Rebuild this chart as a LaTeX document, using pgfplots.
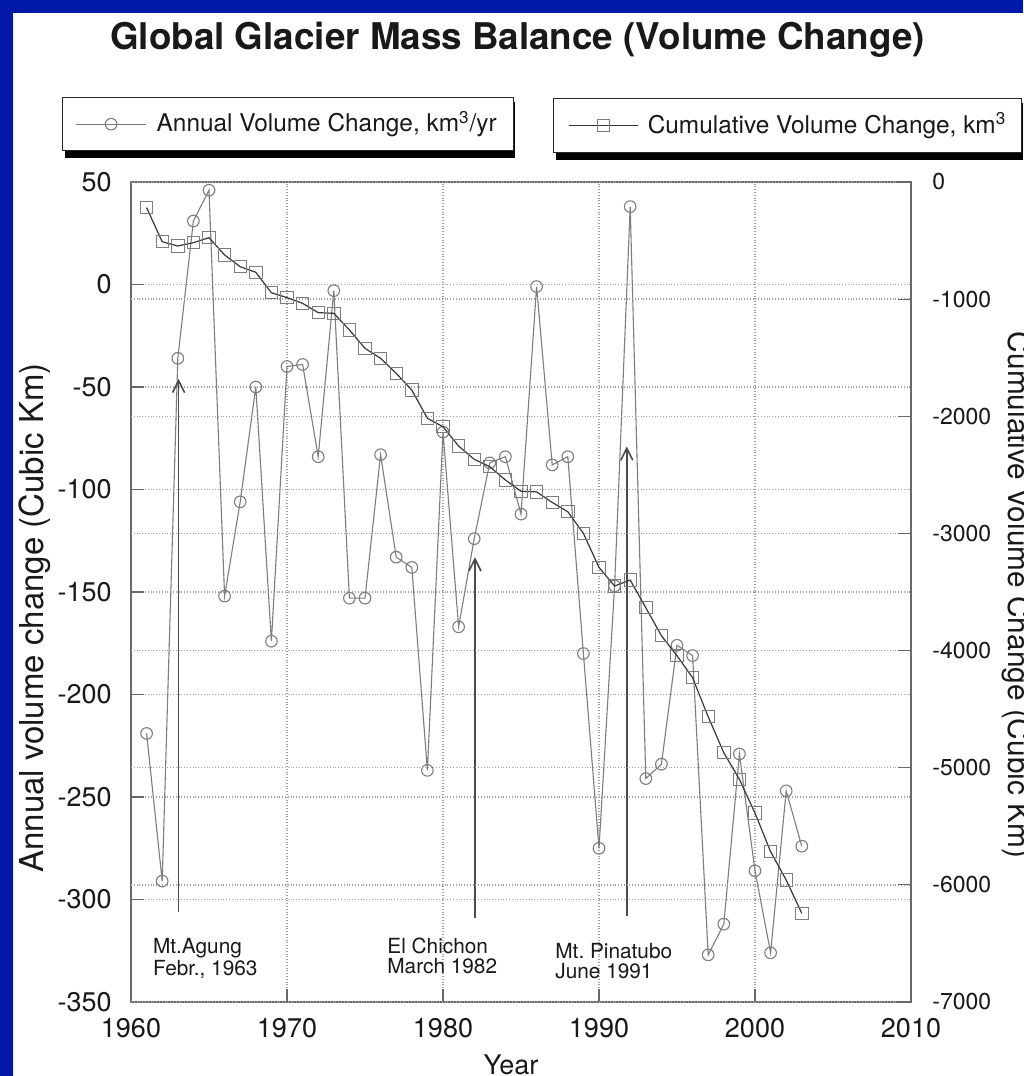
\documentclass[border=0pt]{standalone}
\usepackage{fontspec}
\setmainfont{TeX Gyre Heros}
\usepackage{pgfplots}
\pgfplotsset{compat=1.18}
\usetikzlibrary{arrows.meta}
\definecolor{slideblue}{RGB}{0,24,168}
\definecolor{gridc}{RGB}{160,160,160}
\definecolor{axc}{RGB}{105,105,105}
\definecolor{annc}{RGB}{125,125,125}
\definecolor{cumc}{RGB}{55,55,55}
\definecolor{txt}{RGB}{25,25,25}
\definecolor{arrc}{RGB}{75,75,75}
\newcommand\tickfont{\fontsize{13.5}{14}\selectfont}
\newcommand\rtickfont{\fontsize{11.5}{12}\selectfont}
\newcommand\legfont{\fontsize{12.2}{13}\selectfont}
\newcommand\annfont{\fontsize{10.4}{9.8}\selectfont}
\frenchspacing
\begin{document}
\begin{tikzpicture}
\useasboundingbox (0pt,0pt) rectangle (511.5pt,-538pt);
\clip (0pt,0pt) rectangle (511.5pt,-538pt);
\fill[white] (0pt,0pt) rectangle (511.5pt,-538pt);
\fill[slideblue] (0pt,0pt) rectangle (6.5pt,-538pt);
\fill[slideblue] (0pt,0pt) rectangle (511.5pt,-6.5pt);
\node[anchor=base, inner sep=0pt, font=\fontsize{18.4}{20}\selectfont\bfseries, text=txt] at (258.75pt,-24.5pt) {Global Glacier Mass Balance (Volume Change)};
% shadows of the two legend boxes
\fill[black] (32.5pt,-51pt) rectangle (257.5pt,-79pt);
\fill[black] (278pt,-51.5pt) rectangle (511.5pt,-80pt);

% ---------- left axis: annual volume change ----------
\begin{axis}[
  at={(65.5pt,-501pt)}, anchor=south west,
  scale only axis, width=390pt, height=410pt,
  xmin=1960, xmax=2010, ymin=-350, ymax=50,
  xtick={1960,1970,1980,1990,2000,2010},
  xticklabels={1960,1970,1980,1990,2000,2010},
  ytick={-350,-300,-250,-200,-150,-100,-50,0,50},
  yticklabels={-350,-300,-250,-200,-150,-100,-50,0,50},
  xtick pos=bottom, ytick pos=left,
  tick align=inside, major tick length=6.5pt,
  tick style={axc, line width=0.6pt},
  axis line style={axc, line width=0.6pt},
  xmajorgrids, ymajorgrids,
  grid style={densely dotted, gridc, line width=0.7pt},
  xticklabel style={font=\tickfont, text=txt, anchor=north, inner sep=0pt, yshift=-8pt},
  yticklabel style={font=\tickfont, text=txt, anchor=east, inner sep=0pt, xshift=-9.5pt},
  legend style={at={(axis description cs:-0.0885,1.1037)}, anchor=north west,
    draw=black!85, line width=0.6pt, fill=white, inner xsep=6.5pt, inner ysep=8pt,
    nodes={inner sep=0pt}, font=\legfont, text=txt},
  legend image code/.code={\draw[#1, mark repeat=2, mark phase=2] plot coordinates {(0pt,0pt) (17.5pt,0pt) (35pt,0pt)};},
]
\addplot[annc, line width=0.55pt, mark=o, mark size=2.9pt, mark options={fill=white, line width=0.55pt}] coordinates {
(1961,-219) (1962,-291) (1963,-36) (1964,31) (1965,46) (1966,-152) (1967,-106) (1968,-50)
(1969,-174) (1970,-40) (1971,-39) (1972,-84) (1973,-3) (1974,-153) (1975,-153) (1976,-83)
(1977,-133) (1978,-138) (1979,-237) (1980,-72) (1981,-167) (1982,-124) (1983,-87) (1984,-84)
(1985,-112) (1986,-1) (1987,-88) (1988,-84) (1989,-180) (1990,-275) (1991,-147) (1992,38)
(1993,-241) (1994,-234) (1995,-176) (1996,-181) (1997,-327) (1998,-312) (1999,-229) (2000,-286)
(2001,-326) (2002,-247) (2003,-274)};
\addlegendentry{\hspace{5pt}\makebox[172pt][l]{\rule[-3pt]{0pt}{12pt}Annual Volume Change, km\smash{\textsuperscript{3}}/yr}}
\draw[arrc, line width=0.8pt, -{Straight Barb[length=6pt,width=6pt]}] (axis cs:1963.05,-306) -- (axis cs:1963.05,-46);
\draw[arrc, line width=0.8pt, -{Straight Barb[length=6pt,width=6pt]}] (axis cs:1982.05,-309) -- (axis cs:1982.05,-133);
\draw[arrc, line width=0.8pt, -{Straight Barb[length=6pt,width=6pt]}] (axis cs:1991.78,-308) -- (axis cs:1991.78,-79);
\node[anchor=north west, inner sep=0pt, align=left, font=\annfont, text=txt] at (axis cs:1961.39,-318.8) {Mt.Agung\\Febr., 1963};
\node[anchor=north west, inner sep=0pt, align=left, font=\annfont, text=txt] at (axis cs:1976.41,-318.8) {El Chichon\\March 1982};
\node[anchor=north west, inner sep=0pt, align=left, font=\annfont, text=txt] at (axis cs:1987.18,-321.2) {Mt.\ Pinatubo\\June 1991};
\end{axis}

% ---------- right axis: cumulative volume change ----------
\begin{axis}[
  at={(65.5pt,-501pt)}, anchor=south west,
  scale only axis, width=390pt, height=410pt,
  xmin=1960, xmax=2010, ymin=-7000, ymax=0,
  axis x line=none, axis y line*=right,
  ytick={-7000,-6000,-5000,-4000,-3000,-2000,-1000,0},
  yticklabels={-7000,-6000,-5000,-4000,-3000,-2000,-1000,0},
  tick align=inside, major tick length=6.5pt,
  tick style={axc, line width=0.6pt},
  axis line style={axc, line width=0.6pt},
  ymajorgrids,
  grid style={densely dotted, gridc, line width=0.7pt},
  yticklabel style={font=\rtickfont, text=txt, anchor=west, inner sep=0pt, xshift=10.5pt},
  legend style={at={(axis description cs:0.541,1.1024)}, anchor=north west,
    draw=black!85, line width=0.6pt, fill=white, inner xsep=7.5pt, inner ysep=8.25pt,
    nodes={inner sep=0pt}, font=\legfont, text=txt},
  legend image code/.code={\draw[#1, mark repeat=2, mark phase=2] plot coordinates {(0pt,0pt) (17.25pt,0pt) (34.5pt,0pt)};},
]
\addplot[cumc, line width=0.6pt, mark=square, mark size=3.1pt, mark options={fill=white, line width=0.5pt, draw=annc}] coordinates {
(1961,-219) (1962,-510) (1963,-546) (1964,-518) (1965,-475) (1966,-623) (1967,-723) (1968,-771)
(1969,-945) (1970,-987) (1971,-1036) (1972,-1115) (1973,-1121) (1974,-1263) (1975,-1420) (1976,-1505)
(1977,-1633) (1978,-1776) (1979,-2017) (1980,-2089) (1981,-2254) (1982,-2367) (1983,-2430) (1984,-2544)
(1985,-2640) (1986,-2645) (1987,-2735) (1988,-2815) (1989,-2999) (1990,-3290) (1991,-3449) (1992,-3398)
(1993,-3634) (1994,-3873) (1995,-4044) (1996,-4232) (1997,-4565) (1998,-4872) (1999,-5099) (2000,-5387)
(2001,-5717) (2002,-5959) (2003,-6243)};
\addlegendentry{\hspace{4.5pt}\makebox[179.5pt][l]{\rule[-3pt]{0pt}{12pt}Cumulative Volume Change, km\smash{\textsuperscript{3}}}}
\end{axis}

\node[rotate=90, anchor=base, inner sep=0pt, font=\fontsize{16.5}{18}\selectfont, text=txt] at (21.5pt,-309pt) {Annual volume change (Cubic Km)};
\node[rotate=-90, anchor=base, inner sep=0pt, font=\fontsize{14.9}{16}\selectfont, text=txt] at (504pt,-297.5pt) {Cumulative Volume Change (Cubic Km)};
\node[anchor=base, inner sep=0pt, font=\tickfont, text=txt] at (255.5pt,-537pt) {Year};
\end{tikzpicture}
\end{document}
